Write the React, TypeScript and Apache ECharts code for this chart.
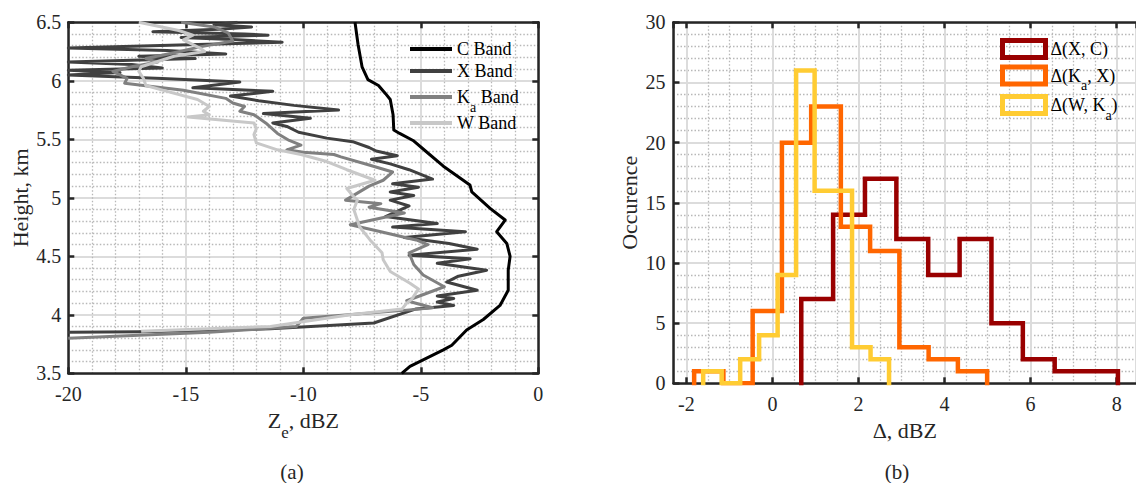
import React, { useEffect, useRef } from "react";
import * as echarts from "echarts";

const FONT = "Liberation Serif, serif";
const AX = "#262626";

// ---------- Panel (a): reflectivity profiles ----------
const cBandZe = [-7.8, -7.67, -7.5, -7.25, -6.8, -6.5, -6.3, -6.18, -6.15, -5.9, -5.33, -4.8, -4.04, -2.91, -2.83, -2.05, -1.41, -1.77, -1.34, -1.2, -1.28, -1.28, -1.63, -2.34, -3.05, -3.68, -4.04, -5.46, -5.81];
const cBandH = [6.5, 6.31, 6.12, 6.01, 5.96, 5.89, 5.84, 5.71, 5.58, 5.55, 5.49, 5.4, 5.27, 5.11, 5.05, 4.91, 4.81, 4.71, 4.61, 4.5, 4.38, 4.21, 4.08, 3.96, 3.87, 3.74, 3.7, 3.56, 3.5];

const xBandZe = [-12.8, -13.8, -12.2, -13.6, -16.4, -12.5, -11.5, -15.2, -12.8, -10.9, -14.5, -20, -15.8, -13.3, -17.0, -14.6, -20, -17.3, -16.0, -20, -17.8, -20, -16.0, -12.7, -14.7, -11.3, -13.1, -11.9, -10.4, -8.5, -11.7, -9.7, -11.3, -10.7, -10.2, -9.0, -7.9, -7.2, -6.9, -6.0, -7.1, -6.3, -5.5, -4.5, -6.2, -5.1, -6.3, -5.3, -6.3, -5.5, -6.5, -4.3, -6.2, -3.1, -5.7, -3.8, -2.6, -5.5, -2.9, -4.3, -2.2, -3.4, -3.9, -2.6, -4.3, -3.6, -4.3, -3.6, -5.2, -7.0, -11.4, -16.9, -20];
const xBandH = [6.5, 6.48, 6.46, 6.44, 6.42, 6.4, 6.39, 6.37, 6.35, 6.33, 6.31, 6.28, 6.26, 6.23, 6.21, 6.19, 6.16, 6.14, 6.11, 6.09, 6.07, 6.05, 6.02, 5.99, 5.94, 5.91, 5.87, 5.83, 5.79, 5.75, 5.72, 5.68, 5.64, 5.61, 5.56, 5.51, 5.48, 5.43, 5.4, 5.36, 5.33, 5.29, 5.24, 5.16, 5.12, 5.09, 5.05, 5.02, 4.98, 4.93, 4.84, 4.78, 4.75, 4.71, 4.66, 4.61, 4.56, 4.51, 4.48, 4.44, 4.38, 4.33, 4.28, 4.21, 4.16, 4.14, 4.11, 4.08, 4.05, 3.93, 3.88, 3.855, 3.85];

const kaBandZe = [-15.2, -13.8, -13.2, -13.0, -14.4, -15.5, -16.7, -16.2, -17.3, -18.1, -17.5, -17.6, -16.8, -15.1, -13.3, -13.0, -12.5, -12.7, -12.1, -11.6, -11.1, -10.6, -10.1, -10.7, -10.0, -8.7, -8.4, -7.2, -6.2, -6.6, -7.2, -8.2, -6.7, -7.2, -5.7, -8.0, -6.7, -5.2, -4.7, -5.5, -5.3, -4.9, -4.0, -4.8, -5.6, -4.5, -5.6, -10.0, -10.3, -14.0, -20];
const kaBandH = [6.5, 6.46, 6.41, 6.34, 6.29, 6.24, 6.19, 6.16, 6.12, 6.08, 6.02, 5.98, 5.96, 5.92, 5.85, 5.81, 5.78, 5.74, 5.71, 5.64, 5.55, 5.49, 5.45, 5.41, 5.39, 5.37, 5.35, 5.28, 5.22, 5.15, 5.1, 4.98, 4.95, 4.92, 4.87, 4.77, 4.71, 4.64, 4.6, 4.53, 4.43, 4.34, 4.24, 4.18, 4.12, 4.06, 4.04, 3.97, 3.9, 3.85, 3.8];

const wBandZe = [-17.0, -15.3, -14.7, -15.1, -14.4, -14.2, -15.5, -16.9, -17.0, -16.8, -16.7, -15.8, -14.5, -14.0, -14.25, -14.0, -14.9, -12.1, -12.0, -12.1, -12.0, -11.1, -10.1, -9.0, -8.15, -6.95, -8.15, -7.9, -7.7, -7.85, -7.6, -7.16, -6.65, -6.6, -6.3, -5.46, -5.1, -5.4, -5.6, -5.8, -8.0, -11.4, -16.9];
const wBandH = [6.5, 6.43, 6.39, 6.35, 6.28, 6.25, 6.21, 6.12, 6.08, 6.02, 5.96, 5.91, 5.84, 5.78, 5.74, 5.71, 5.69, 5.64, 5.59, 5.54, 5.47, 5.41, 5.37, 5.31, 5.24, 5.15, 5.08, 5.02, 4.98, 4.9, 4.75, 4.64, 4.53, 4.47, 4.37, 4.27, 4.22, 4.13, 4.1, 4.05, 4.0, 3.9, 3.86];

// ---------- Panel (b): histograms of differences ----------
const dXCEdges = [0.67, 1.41, 2.15, 2.88, 3.62, 4.35, 5.09, 5.82, 6.56, 7.29, 8.03];
const dXCCounts = [7, 14, 17, 12, 9, 12, 5, 2, 1, 1];
const dKaXEdges = [-1.82, -1.14, -0.46, 0.22, 0.9, 1.59, 2.27, 2.95, 3.63, 4.31, 4.99];
const dKaXCounts = [1, 0, 6, 20, 23, 13, 11, 3, 2, 1];
const dWKaEdges = [-1.61, -1.18, -0.75, -0.31, 0.12, 0.55, 0.98, 1.41, 1.85, 2.28, 2.71];
const dWKaCounts = [1, 0, 2, 4, 9, 26, 16, 16, 3, 2];

const profileNames = ["C Band", "X Band", "Ka Band", "W Band"];
const histNames = ["dXC", "dKaX", "dWKa"];

const pairs = (xs: number[], ys: number[]) => xs.map((x, i) => [x, ys[i]]);
const stairs = (edges: number[], counts: number[]) => {
  const pts: number[][] = [[edges[0], 0]];
  counts.forEach((c, i) => {
    pts.push([edges[i], c]);
    pts.push([edges[i + 1], c]);
  });
  pts.push([edges[edges.length - 1], 0]);
  return pts;
};

const tickFont = { fontFamily: FONT, fontSize: 20, color: AX };
const axisLine = { show: true, onZero: false, lineStyle: { color: AX, width: 2.5 } };
const axisTick = { show: true, inside: true, length: 6, lineStyle: { color: AX, width: 2.5 } };
const splitLine = { show: true, lineStyle: { color: "#dcdcdc", width: 2 } };
const minorSplitLine = { show: true, lineStyle: { color: "#b8b8b8", width: 1.3, type: [1.5, 2] } };

const nameRich = {
  n: { fontFamily: FONT, fontSize: 22, color: AX },
  s: { fontFamily: FONT, fontSize: 17, color: AX, padding: [24, 0, 0, 0] },
};
const legRich = {
  n: { fontFamily: FONT, fontSize: 18, color: "#000" },
  s: { fontFamily: FONT, fontSize: 14, color: "#000", padding: [20, 0, 0, 0] },
};

const legendLabels: Record<string, string> = {
  "C Band": "{n|C Band}",
  "X Band": "{n|X Band}",
  "Ka Band": "{n|K}{s|a}{n| Band}",
  "W Band": "{n|W Band}",
  dXC: "{n|Δ(X, C)}",
  dKaX: "{n|Δ(K}{s|a}{n|, X)}",
  dWKa: "{n|Δ(W, K}{s|a}{n|)}",
};

const profileColors = ["#000000", "#404040", "#808080", "#c8c8c8"];
const histColors = ["#990000", "#ff6600", "#ffcc33"];

function lineLegend(name: string, top: number) {
  return {
    data: [name],
    left: 410,
    top,
    padding: 0,
    icon: "rect",
    itemWidth: 42,
    itemHeight: 4,
    itemStyle: { borderWidth: 0 },
    formatter: (n: string) => legendLabels[n],
    textStyle: { fontFamily: FONT, fontSize: 18, color: "#000", rich: legRich },
    selectedMode: false,
  };
}
function boxLegend(name: string, top: number, color: string) {
  return {
    data: [name],
    left: 1000,
    top,
    padding: 0,
    icon: "rect",
    itemWidth: 43,
    itemHeight: 17,
    itemStyle: { color: "rgba(0,0,0,0)", borderColor: color, borderWidth: 5 },
    formatter: (n: string) => legendLabels[n],
    textStyle: { fontFamily: FONT, fontSize: 18, color: "#000", rich: legRich },
    selectedMode: false,
  };
}

export default function App() {
  const ref = useRef<HTMLDivElement>(null);
  useEffect(() => {
    document.body.style.margin = "0";
    if (!ref.current) return;
    const chart = echarts.init(ref.current, null, { renderer: "svg" });
    const evenLabel = (v: number) => (Math.abs(v - Math.round(v)) < 1e-9 ? String(v) : "");
    const option = {
      animation: false,
      backgroundColor: "#ffffff",
      textStyle: { fontFamily: FONT },
      grid: [
        { left: 68.3, top: 22.3, width: 470, height: 351 },
        { left: 673.5, top: 22.3, width: 468, height: 361 },
      ],
      xAxis: [
        {
          gridIndex: 0, type: "value", min: -20, max: 0, interval: 5, position: "bottom",
          axisLine, axisTick, splitLine, minorSplitLine,
          minorTick: { show: false, splitNumber: 5 },
          axisLabel: { ...tickFont, margin: 11 },
          name: "{n|Z}{s|e}{n|, dBZ}", nameLocation: "middle", nameGap: 27,
          nameTextStyle: { fontFamily: FONT, fontSize: 22, color: AX, rich: nameRich },
        },
        {
          gridIndex: 0, type: "value", min: -20, max: 0, interval: 5, position: "top",
          axisLine, axisTick, splitLine: { show: false }, axisLabel: { show: false },
        },
        {
          gridIndex: 1, type: "value", min: -2.3, max: 8.45, splitNumber: 5, minInterval: 2, maxInterval: 2,
          position: "bottom", axisLine, axisTick, splitLine, minorSplitLine,
          minorTick: { show: false, splitNumber: 4 },
          axisLabel: { ...tickFont, margin: 11, formatter: evenLabel, showMinLabel: false, showMaxLabel: false },
          name: "Δ, dBZ", nameLocation: "middle", nameGap: 31,
          nameTextStyle: { fontFamily: FONT, fontSize: 22, color: AX },
        },
        {
          gridIndex: 1, type: "value", min: -2.3, max: 8.45, splitNumber: 5, minInterval: 2, maxInterval: 2,
          position: "top", axisLine, axisTick, splitLine: { show: false }, axisLabel: { show: false },
        },
      ],
      yAxis: [
        {
          gridIndex: 0, type: "value", min: 3.5, max: 6.5, interval: 0.5, position: "left",
          axisLine, axisTick, splitLine, minorSplitLine,
          minorTick: { show: false, splitNumber: 5 },
          axisLabel: { ...tickFont, margin: 7 },
          name: "Height, km", nameLocation: "middle", nameGap: 37, nameRotate: 90,
          nameTextStyle: { fontFamily: FONT, fontSize: 22, color: AX },
        },
        {
          gridIndex: 0, type: "value", min: 3.5, max: 6.5, interval: 0.5, position: "right",
          axisLine, axisTick, splitLine: { show: false }, axisLabel: { show: false },
        },
        {
          gridIndex: 1, type: "value", min: 0, max: 30, interval: 5, position: "left",
          axisLine, axisTick, splitLine, minorSplitLine,
          minorTick: { show: false, splitNumber: 5 },
          axisLabel: { ...tickFont, margin: 8 },
          name: "Occurence", nameLocation: "middle", nameGap: 33, nameRotate: 90,
          nameTextStyle: { fontFamily: FONT, fontSize: 22, color: AX },
        },
      ],
      legend: [
        lineLegend("C Band", 40),
        lineLegend("X Band", 62),
        lineLegend("Ka Band", 88),
        lineLegend("W Band", 114),
        boxLegend("dXC", 38, histColors[0]),
        boxLegend("dKaX", 64.5, histColors[1]),
        boxLegend("dWKa", 94, histColors[2]),
      ],
      series: [
        ...[
          pairs(cBandZe, cBandH),
          pairs(xBandZe, xBandH),
          pairs(kaBandZe, kaBandH),
          pairs(wBandZe, wBandH),
        ].map((data, i) => ({
          name: profileNames[i],
          type: "line",
          xAxisIndex: 0,
          yAxisIndex: 0,
          data,
          showSymbol: false,
          symbol: "none",
          color: profileColors[i],
          lineStyle: { color: profileColors[i], width: 3, join: "round" },
        })),
        ...[
          stairs(dXCEdges, dXCCounts),
          stairs(dKaXEdges, dKaXCounts),
          stairs(dWKaEdges, dWKaCounts),
        ].map((data, i) => ({
          name: histNames[i],
          type: "line",
          xAxisIndex: 2,
          yAxisIndex: 2,
          data,
          showSymbol: false,
          symbol: "none",
          color: histColors[i],
          lineStyle: { color: histColors[i], width: 4.5, join: "miter", cap: "square" },
        })),
      ],
      graphic: [
        { type: "text", x: 292, y: 472, style: { text: "(a)", fontFamily: FONT, fontSize: 21, fill: AX, textAlign: "center", textVerticalAlign: "middle", align: "center", verticalAlign: "middle" } },
        { type: "text", x: 897, y: 472, style: { text: "(b)", fontFamily: FONT, fontSize: 21, fill: AX, textAlign: "center", textVerticalAlign: "middle", align: "center", verticalAlign: "middle" } },
      ],
    };
    chart.setOption(option as any);
    return () => chart.dispose();
  }, []);
  return <div ref={ref} style={{ width: 1136, height: 483 }} />;
}
